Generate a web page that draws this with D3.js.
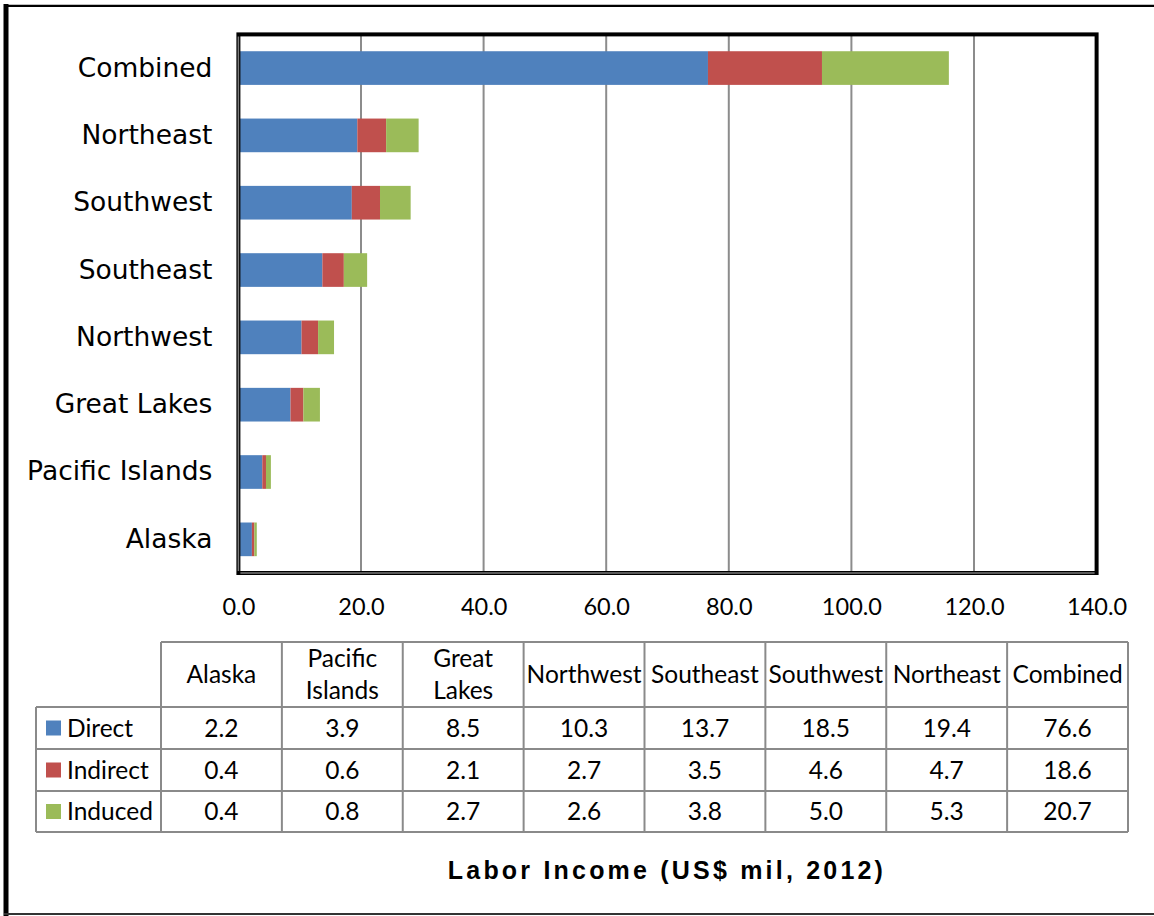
<!DOCTYPE html>
<html>
<head>
<meta charset="utf-8">
<title>Labor Income</title>
<script src="https://cdn.jsdelivr.net/npm/d3@7/dist/d3.min.js"></script>
<style>
    body { margin: 0; background: #fff; }
    svg { display: block; }
    .cat text { font-family: "DejaVu Sans", Verdana, sans-serif; font-size: 26.5px; fill: #000; }
    .xaxis text { font-family: Lato, Calibri, sans-serif; font-size: 23.5px; fill: #000; }
    .tbl text { font-family: Lato, Calibri, sans-serif; font-size: 24.5px; fill: #000; }
    .title { font-family: "Liberation Sans", Arial, sans-serif; font-weight: bold; font-size: 25px; letter-spacing: 3.2px; }
</style>
</head>
<body>
<svg id="chart" width="1154" height="916"></svg>
<script>
    // data, table order (bottom bar first)
    var categories = ["Alaska", "Pacific Islands", "Great Lakes", "Northwest", "Southeast", "Southwest", "Northeast", "Combined"];
    var headerLines = [["Alaska"], ["Pacific", "Islands"], ["Great", "Lakes"], ["Northwest"], ["Southeast"], ["Southwest"], ["Northeast"], ["Combined"]];
    var direct = [2.2, 3.9, 8.5, 10.3, 13.7, 18.5, 19.4, 76.6];
    var indirect = [0.4, 0.6, 2.1, 2.7, 3.5, 4.6, 4.7, 18.6];
    var induced = [0.4, 0.8, 2.7, 2.6, 3.8, 5.0, 5.3, 20.7];
    var seriesNames = ["Direct", "Indirect", "Induced"];
    var colors = ["#4f81bd", "#c0504d", "#9bbb59"];
    var xTicks = [0, 20, 40, 60, 80, 100, 120, 140];

    var svg = d3.select("#chart");

    // outer frame
    svg.append("line").attr("x1", 6).attr("x2", 6).attr("y1", 4).attr("y2", 916)
        .attr("stroke", "#000").attr("stroke-width", 5);
    svg.append("line").attr("x1", 4).attr("x2", 1154).attr("y1", 5.8).attr("y2", 5.8)
        .attr("stroke", "#000").attr("stroke-width", 2.2);
    svg.append("line").attr("x1", 4).attr("x2", 1154).attr("y1", 914).attr("y2", 914)
        .attr("stroke", "#333").attr("stroke-width", 2);

    var plotL = 238.4, plotR = 1096.6, plotT = 34.4, plotB = 573;

    var x = d3.scaleLinear().domain([0, 140]).range([plotL, plotR]);
    var y = d3.scaleBand().domain(categories.slice().reverse()).range([plotT, plotB])
        .paddingInner(0.5).paddingOuter(0.25);

    // gridlines
    svg.append("g").selectAll("line").data(xTicks.slice(1, -1)).join("line")
        .attr("x1", d => x(d)).attr("x2", d => x(d))
        .attr("y1", plotT).attr("y2", plotB)
        .attr("stroke", "#8c8c8c").attr("stroke-width", 2);

    // stacked bars
    var rows = categories.map((c, i) => ({cat: c, Direct: direct[i], Indirect: indirect[i], Induced: induced[i]}));
    var stack = d3.stack().keys(seriesNames)(rows);

    svg.append("g").selectAll("g").data(stack).join("g")
        .attr("fill", (d, i) => colors[i])
        .selectAll("rect").data(d => d).join("rect")
        .attr("x", d => x(d[0]))
        .attr("width", d => x(d[1]) - x(d[0]))
        .attr("y", d => y(d.data.cat))
        .attr("height", y.bandwidth());

    // plot border
    svg.append("rect").attr("x", plotL).attr("y", plotT).attr("width", plotR - plotL).attr("height", plotB - plotT)
        .attr("fill", "none").attr("stroke", "#000").attr("stroke-width", 4);
    svg.append("line").attr("x1", plotL).attr("x2", plotL).attr("y1", plotT + 2).attr("y2", plotB - 2)
        .attr("stroke", "#7a7a7a").attr("stroke-width", 1.5);
    svg.append("line").attr("x1", plotL + 2).attr("x2", plotR - 2).attr("y1", plotB).attr("y2", plotB)
        .attr("stroke", "#7a7a7a").attr("stroke-width", 1.5);

    // axes
    svg.append("g").attr("class", "xaxis")
        .attr("transform", "translate(0," + plotB + ")")
        .call(d3.axisBottom(x).tickValues(xTicks).tickFormat(d3.format(".1f")).tickSize(0).tickPadding(25))
        .call(g => g.select(".domain").remove());

    svg.append("g").attr("class", "cat")
        .attr("transform", "translate(" + plotL + ",0)")
        .call(d3.axisLeft(y).tickSize(0).tickPadding(26))
        .call(g => g.select(".domain").remove());

    // data table
    var tLeft = 36, cLeft = 161, cRight = 1128;
    var rowY = [642, 707, 749, 791, 832];
    var col = d3.scaleBand().domain(categories).range([cLeft, cRight]);
    var tbl = svg.append("g").attr("class", "tbl");
    var gridColor = "#8a8a8a";

    tbl.append("line").attr("x1", cLeft).attr("x2", cRight).attr("y1", rowY[0]).attr("y2", rowY[0])
        .attr("stroke", gridColor).attr("stroke-width", 2);
    tbl.selectAll("line.h").data(rowY.slice(1)).join("line").attr("class", "h")
        .attr("x1", tLeft).attr("x2", cRight).attr("y1", d => d).attr("y2", d => d)
        .attr("stroke", gridColor).attr("stroke-width", 2);
    tbl.append("line").attr("x1", tLeft).attr("x2", tLeft).attr("y1", rowY[1]).attr("y2", rowY[4])
        .attr("stroke", gridColor).attr("stroke-width", 2);
    tbl.selectAll("line.v").data(categories.map(c => col(c)).concat([cRight])).join("line").attr("class", "v")
        .attr("x1", d => d).attr("x2", d => d).attr("y1", rowY[0]).attr("y2", rowY[4])
        .attr("stroke", gridColor).attr("stroke-width", 2);

    // header
    var headMid = (rowY[0] + rowY[1]) / 2;
    categories.forEach(function (c, i) {
        var lines = headerLines[i];
        lines.forEach(function (t, j) {
            tbl.append("text")
                .attr("x", col(c) + col.bandwidth() / 2)
                .attr("y", headMid + (j - (lines.length - 1) / 2) * 32)
                .attr("dy", "0.36em")
                .attr("text-anchor", "middle")
                .text(t);
        });
    });

    // body rows
    var series = [direct, indirect, induced];
    series.forEach(function (vals, r) {
        var mid = (rowY[r + 1] + rowY[r + 2]) / 2;
        tbl.append("rect").attr("x", 46).attr("y", mid - 7.5).attr("width", 15).attr("height", 15)
            .attr("fill", colors[r]);
        tbl.append("text").attr("x", 67).attr("y", mid).attr("dy", "0.36em").text(seriesNames[r]);
        tbl.selectAll(null).data(vals).join("text")
            .attr("x", (d, i) => col(categories[i]) + col.bandwidth() / 2)
            .attr("y", mid).attr("dy", "0.36em")
            .attr("text-anchor", "middle")
            .text(d => d3.format(".1f")(d));
    });

    svg.append("text").attr("class", "title")
        .attr("x", 667).attr("y", 879).attr("text-anchor", "middle")
        .text("Labor Income (US$ mil, 2012)");
</script>
</body>
</html>
